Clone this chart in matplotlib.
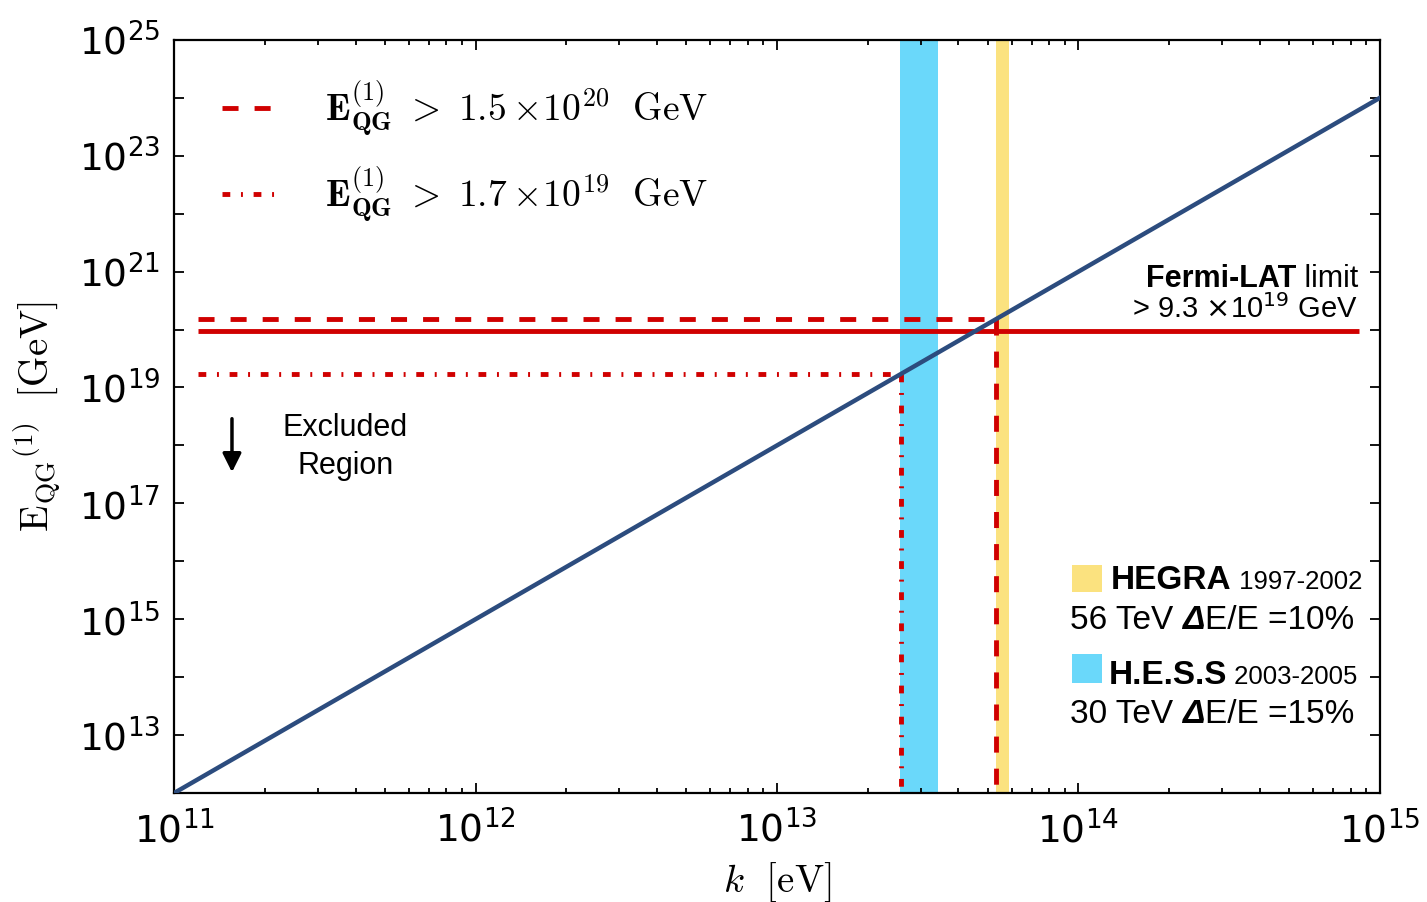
import matplotlib
matplotlib.use('Agg')
import matplotlib.pyplot as plt
import matplotlib.ticker as mticker
from matplotlib.patches import Rectangle
from matplotlib.transforms import IdentityTransform
import numpy as np

# --- data ---
k_line = [1e11, 1e15]            # eV
eqg_line = [1e12, 1e24]          # GeV (E_QG ~ k^3 scaling)

fermi_limit = 9.3e19
hegra_limit = 1.5e20
hess_limit = 1.7e19
k_hegra = 5.31e13
k_hess = 2.57e13
k_hline_start = 1.2e11
k_fermi_end = 8.5e14

hess_band = (2.56e13, 3.42e13)
hegra_band = (5.32e13, 5.88e13)

y_floor = 1e12
y_labelled = 10.0 ** np.arange(13, 26, 2)   # only odd decades carry a label

red = '#d00000'
navy = '#2c4c7e'
sky = '#6ad8fa'
sand = '#fbe27f'

plt.rcParams['mathtext.fontset'] = 'cm'
plt.rcParams['font.family'] = 'DejaVu Sans'

fig = plt.figure(figsize=(14.27, 9.02), dpi=100)
ax = fig.add_axes([0.122, 0.1208, 0.845, 0.835])
ax.set_xscale('log')
ax.set_yscale('log')
ax.set_xlim(1e11, 1e15)
ax.set_ylim(1e12, 1e25)

ax.axvspan(*hess_band, color=sky, lw=0, zorder=1)
ax.axvspan(*hegra_band, color=sand, lw=0, zorder=1)

lw = 3.5
dash = (0, (3.3, 3.3))
dashdot = (0, (1.6, 2.2, 0.4, 2.2))

ax.plot([k_hline_start, k_fermi_end], [fermi_limit, fermi_limit], color=red, lw=lw,
        solid_capstyle='butt', zorder=3)
l1, = ax.plot([k_hline_start, k_hegra], [hegra_limit, hegra_limit], color=red, lw=lw,
              linestyle=dash, dash_capstyle='butt', zorder=3,
              label=r'$\mathbf{E}_{\mathbf{QG}}^{(1)}\ >\ 1.5\times\!10^{20}\ \ \mathrm{GeV}$')
ax.plot([k_hegra, k_hegra], [hegra_limit, y_floor], color=red, lw=lw,
        linestyle=dash, dash_capstyle='butt', zorder=3)
l2, = ax.plot([k_hline_start, k_hess], [hess_limit, hess_limit], color=red, lw=lw,
              linestyle=dashdot, dash_capstyle='butt', zorder=3,
              label=r'$\mathbf{E}_{\mathbf{QG}}^{(1)}\ >\ 1.7\times\!10^{19}\ \ \mathrm{GeV}$')
ax.plot([k_hess, k_hess], [hess_limit, y_floor], color=red, lw=lw,
        linestyle=dashdot, dash_capstyle='butt', zorder=3)

ax.plot(k_line, eqg_line, color=navy, lw=3.2, zorder=4)

leg = ax.legend(handles=[l1, l2], loc='upper left', bbox_to_anchor=(0.012, 0.993),
                frameon=False, fontsize=27, handlelength=1.45, handletextpad=1.3,
                labelspacing=0.7)

# ticks
ax.yaxis.set_major_locator(mticker.FixedLocator(y_labelled))
ax.yaxis.set_major_formatter(mticker.LogFormatterSciNotation())
ax.yaxis.set_minor_locator(mticker.LogLocator(base=10, numticks=30))
ax.yaxis.set_minor_formatter(mticker.NullFormatter())
ax.xaxis.set_minor_locator(mticker.LogLocator(base=10, subs=np.arange(2, 10), numticks=30))
ax.xaxis.set_minor_formatter(mticker.NullFormatter())
ax.tick_params(which='both', direction='in', top=True, right=True, width=1.3)
ax.tick_params(which='major', length=7, labelsize=27, pad=10)
ax.tick_params(axis='x', which='major', pad=13)
ax.tick_params(axis='x', which='minor', length=3.5)
ax.tick_params(axis='y', which='minor', length=7)
for s in ax.spines.values():
    s.set_linewidth(1.6)

ax.set_xlabel(r'$k\ \ [\mathrm{eV}]$', fontsize=28, labelpad=7)
ax.set_ylabel(r'$\mathrm{E}_{\mathrm{QG}}{}^{(1)}\ \ [\mathrm{GeV}]$', fontsize=28, labelpad=12)

# annotations
sans = 'Liberation Sans'
fig.canvas.draw()
rend = fig.canvas.get_renderer()

def chain(x, y, parts, right=False):
    xd, yd = ax.transAxes.transform((x, y))
    seq = reversed(parts) if right else parts
    for s, kw in seq:
        t = ax.text(xd, yd, s, transform=IdentityTransform(), va='baseline',
                    ha='right' if right else 'left', family=sans, zorder=6, **kw)
        bb = t.get_window_extent(rend)
        xd = bb.x0 if right else bb.x1

chain(0.982, 0.672, [('Fermi-LAT', dict(fontsize=22, weight='bold')),
                     (' limit', dict(fontsize=22))], right=True)
ax.text(0.982, 0.631, r'> 9.3 $\times$10$^{19}$ GeV', transform=ax.transAxes,
        ha='right', va='baseline', family=sans, fontsize=21, math_fontfamily='dejavusans')

chain(0.777, 0.271, [('HEGRA', dict(fontsize=24, weight='bold')),
                     (' 1997-2002', dict(fontsize=18.5))])
chain(0.743, 0.218, [('56 TeV ', dict(fontsize=24)),
                     ('\u0394', dict(fontsize=24, weight='bold', style='italic')),
                     ('E/E =10%', dict(fontsize=24))])
chain(0.775, 0.145, [('H.E.S.S', dict(fontsize=24, weight='bold')),
                     (' 2003-2005', dict(fontsize=18.5))])
chain(0.743, 0.093, [('30 TeV ', dict(fontsize=24)),
                     ('\u0394', dict(fontsize=24, weight='bold', style='italic')),
                     ('E/E =15%', dict(fontsize=24))])

ax.add_patch(Rectangle((0.7446, 0.267), 0.025, 0.036, transform=ax.transAxes,
                       color=sand, lw=0, zorder=6))
ax.add_patch(Rectangle((0.7446, 0.146), 0.025, 0.039, transform=ax.transAxes,
                       color=sky, lw=0, zorder=6))

ax.annotate('', xy=(0.048, 0.426), xytext=(0.048, 0.497), xycoords='axes fraction',
            arrowprops=dict(arrowstyle='-|>', color='black', lw=2.5, mutation_scale=28,
                            shrinkA=0, shrinkB=0))
ax.text(0.142, 0.459, 'Excluded\nRegion', transform=ax.transAxes, ha='center',
        va='center', multialignment='center', family=sans, fontsize=22, linespacing=1.35)

fig.savefig('out.png', dpi=100)
